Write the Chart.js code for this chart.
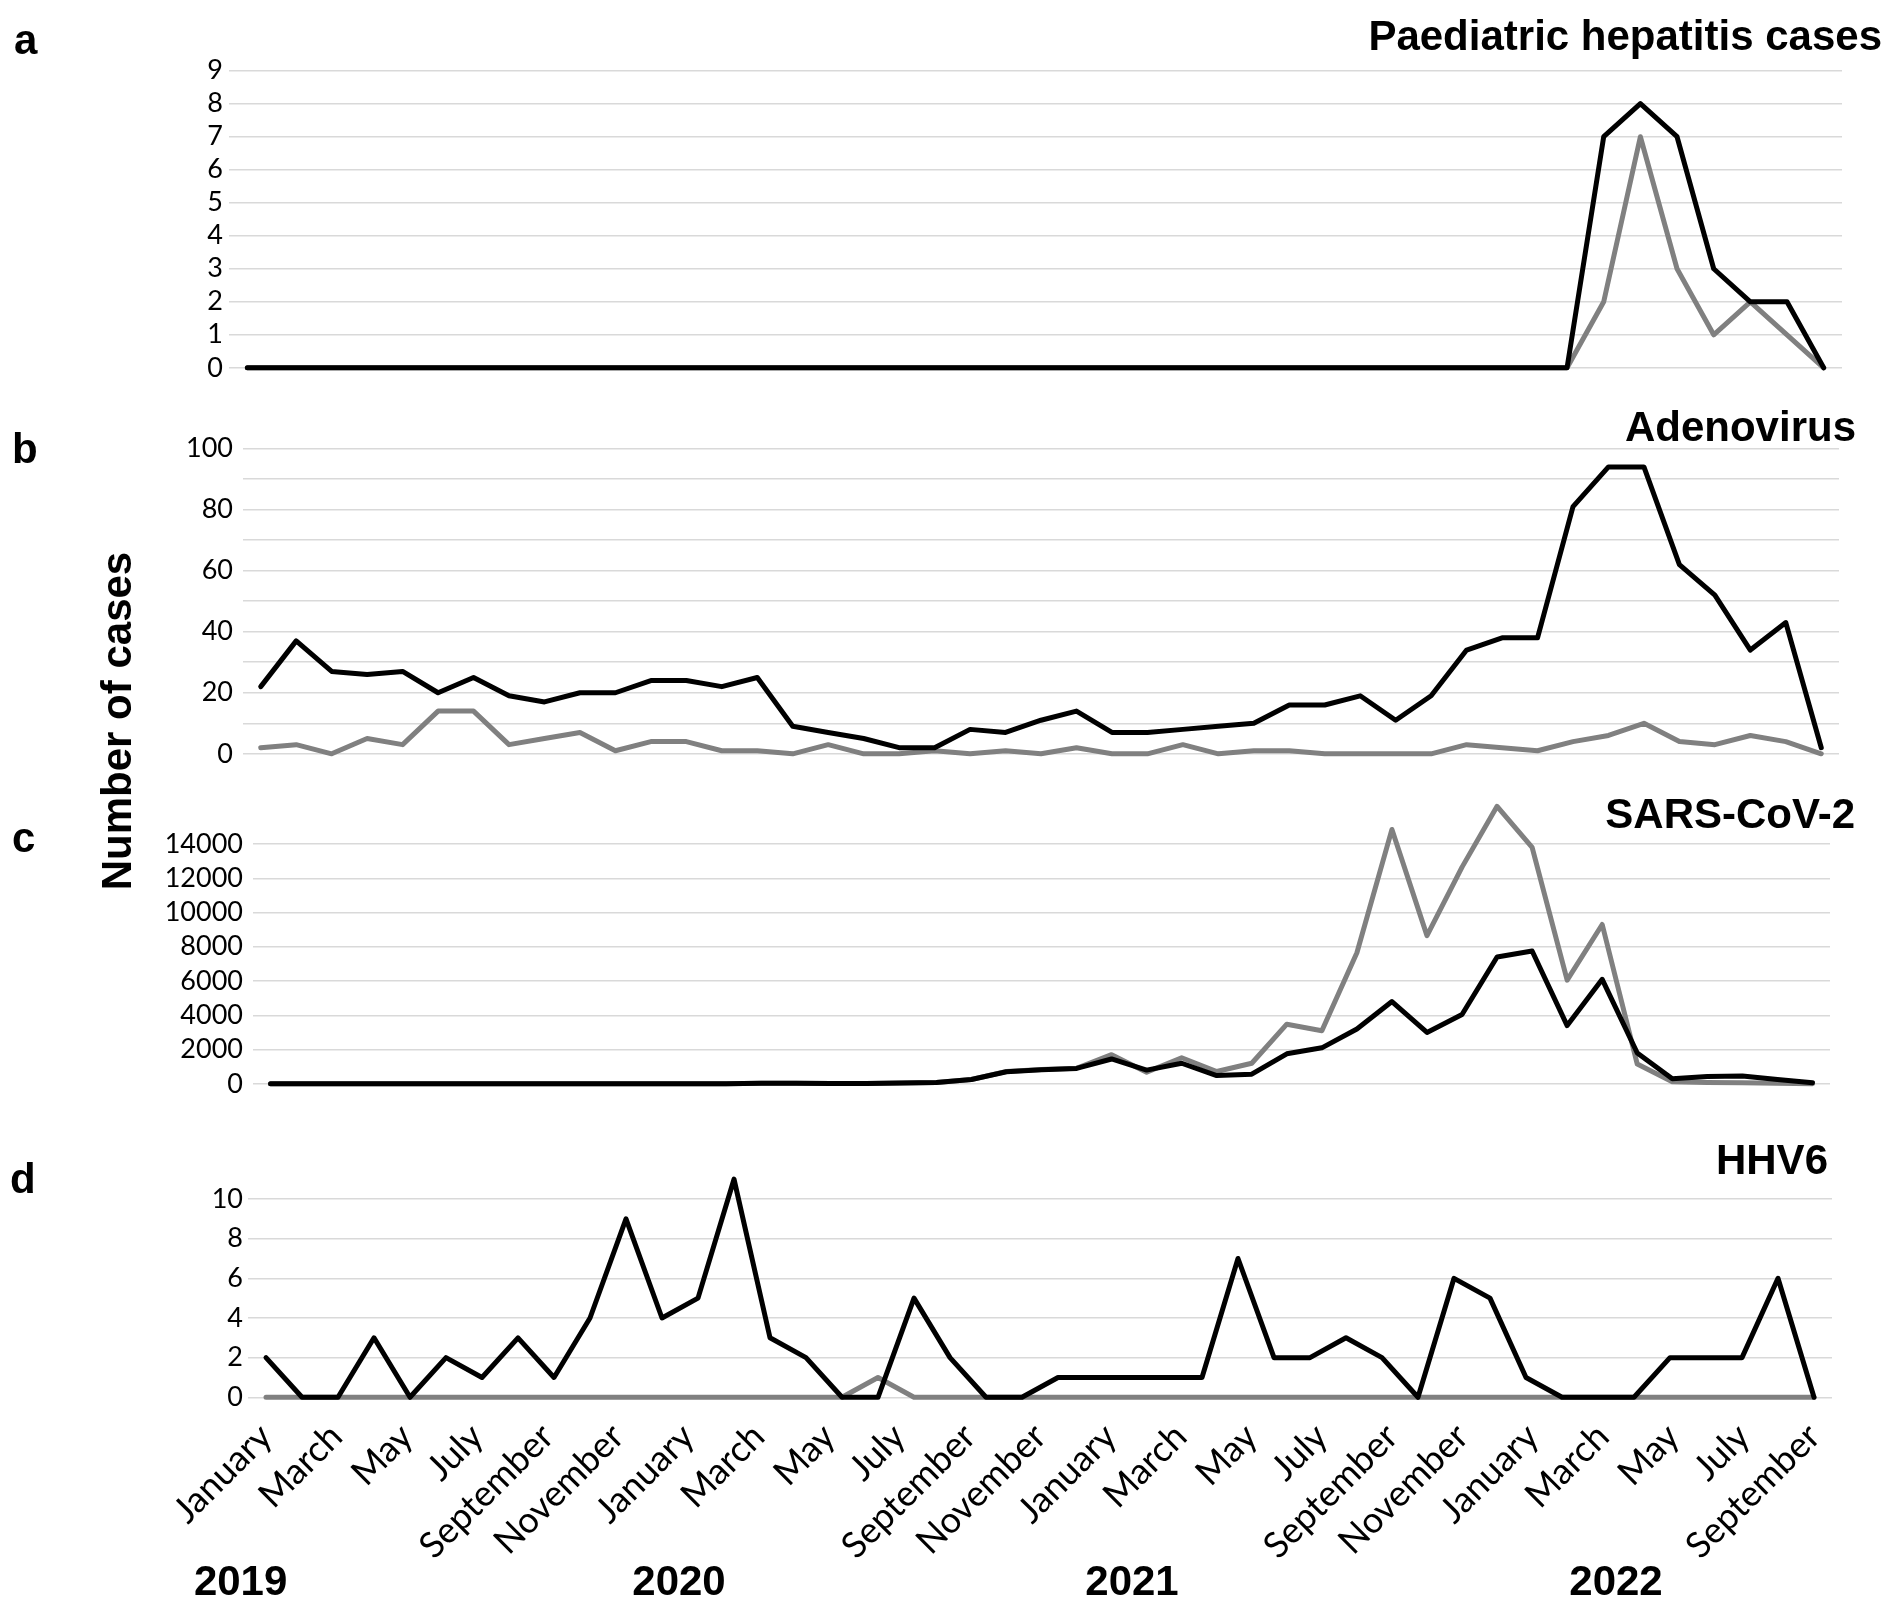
<!DOCTYPE html>
<html>
<head>
<meta charset="utf-8">
<title>Paediatric hepatitis, adenovirus, SARS-CoV-2 and HHV6 cases</title>
<script src="https://cdn.jsdelivr.net/npm/chart.js@4.4.0/dist/chart.umd.min.js"></script>
<style>
  html, body { margin: 0; padding: 0; background: #fff; }
  #page { position: relative; width: 1896px; height: 1612px; overflow: hidden; }
  #page canvas { position: absolute; left: 0; }
  .txt {
    position: absolute;
    font-family: "Liberation Sans", Arial, sans-serif;
    font-weight: bold;
    font-size: 42px;
    line-height: 42px;
    color: #000;
    white-space: nowrap;
  }
</style>
</head>
<body>
<div id="page">
  <canvas id="chartA" width="1896" height="350" style="top:40px"></canvas>
  <canvas id="chartB" width="1896" height="360" style="top:420px"></canvas>
  <canvas id="chartC" width="1896" height="320" style="top:790px"></canvas>
  <canvas id="chartD" width="1896" height="440" style="top:1150px"></canvas>

  <div class="txt" style="left:14px; top:18.8px">a</div>
  <div class="txt" style="left:12px; top:428px">b</div>
  <div class="txt" style="left:12px; top:817px">c</div>
  <div class="txt" style="left:10px; top:1158px">d</div>

  <div class="txt" style="right:14px; top:15.2px">Paediatric hepatitis cases</div>
  <div class="txt" style="right:40px; top:406.4px">Adenovirus</div>
  <div class="txt" style="right:41px; top:792.7px">SARS-CoV-2</div>
  <div class="txt" style="right:68px; top:1139.4px">HHV6</div>

  <div class="txt" style="left:-83.5px; top:700px; width:400px; text-align:center; transform:rotate(-90deg)">Number of cases</div>

  <div id="years"></div>
</div>

<script>
// mois (catégories) : janvier 2019 - septembre 2022
const months = [
    'Jan 2019', 'Feb 2019', 'Mar 2019', 'Apr 2019', 'May 2019', 'Jun 2019', 'Jul 2019', 'Aug 2019', 'Sep 2019', 'Oct 2019', 'Nov 2019', 'Dec 2019',
    'Jan 2020', 'Feb 2020', 'Mar 2020', 'Apr 2020', 'May 2020', 'Jun 2020', 'Jul 2020', 'Aug 2020', 'Sep 2020', 'Oct 2020', 'Nov 2020', 'Dec 2020',
    'Jan 2021', 'Feb 2021', 'Mar 2021', 'Apr 2021', 'May 2021', 'Jun 2021', 'Jul 2021', 'Aug 2021', 'Sep 2021', 'Oct 2021', 'Nov 2021', 'Dec 2021',
    'Jan 2022', 'Feb 2022', 'Mar 2022', 'Apr 2022', 'May 2022', 'Jun 2022', 'Jul 2022', 'Aug 2022', 'Sep 2022'
];

// libellés de l'axe du bas
const monthTicks = [
    'January', 'March', 'May', 'July', 'September', 'November',
    'January', 'March', 'May', 'July', 'September', 'November',
    'January', 'March', 'May', 'July', 'September', 'November',
    'January', 'March', 'May', 'July', 'September'
];
const years = ['2019', '2020', '2021', '2022'];

// a - hépatites pédiatriques (44 mois)
const hepatitisDark = [
    0, 0, 0, 0, 0, 0, 0, 0, 0, 0, 0, 0,
    0, 0, 0, 0, 0, 0, 0, 0, 0, 0, 0, 0,
    0, 0, 0, 0, 0, 0, 0, 0, 0, 0, 0, 0,
    0, 7, 8, 7, 3, 2, 2, 0
];
const hepatitisGrey = [
    0, 0, 0, 0, 0, 0, 0, 0, 0, 0, 0, 0,
    0, 0, 0, 0, 0, 0, 0, 0, 0, 0, 0, 0,
    0, 0, 0, 0, 0, 0, 0, 0, 0, 0, 0, 0,
    0, 2, 7, 3, 1, 2, 1, 0
];

// b - adénovirus (45 mois)
const adenoDark = [
    22, 37, 27, 26, 27, 20, 25, 19, 17, 20, 20, 24,
    24, 22, 25, 9, 7, 5, 2, 2, 8, 7, 11, 14,
    7, 7, 8, 9, 10, 16, 16, 19, 11, 19, 34, 38,
    38, 81, 94, 94, 62, 52, 34, 43, 2
];
const adenoGrey = [
    2, 3, 0, 5, 3, 14, 14, 3, 5, 7, 1, 4,
    4, 1, 1, 0, 3, 0, 0, 1, 0, 1, 0, 2,
    0, 0, 3, 0, 1, 1, 0, 0, 0, 0, 3, 2,
    1, 4, 6, 10, 4, 3, 6, 4, 0
];

// c - SARS-CoV-2 (45 mois)
const sarsDark = [
    0, 0, 0, 0, 0, 0, 0, 0, 0, 0, 0, 0,
    0, 0, 30, 30, 20, 20, 40, 80, 250, 700, 820, 900,
    1450, 800, 1200, 480, 560, 1750, 2100, 3200, 4800, 3000, 4050, 7400,
    7750, 3400, 6100, 1800, 300, 420, 460, 250, 60
];
const sarsGrey = [
    0, 0, 0, 0, 0, 0, 0, 0, 0, 0, 0, 0,
    0, 0, 30, 30, 20, 20, 40, 80, 250, 720, 830, 910,
    1700, 680, 1520, 720, 1200, 3480, 3100, 7650, 14850, 8650, 12650, 16200,
    13800, 6050, 9300, 1150, 120, 70, 60, 30, 0
];

// d - HHV6 (44 mois)
const hhv6Dark = [
    2, 0, 0, 3, 0, 2, 1, 3, 1, 4, 9, 4,
    5, 11, 3, 2, 0, 0, 5, 2, 0, 0, 1, 1,
    1, 1, 1, 7, 2, 2, 3, 2, 0, 6, 5, 1,
    0, 0, 0, 2, 2, 2, 6, 0
];
const hhv6Grey = [
    0, 0, 0, 0, 0, 0, 0, 0, 0, 0, 0, 0,
    0, 0, 0, 0, 0, 1, 0, 0, 0, 0, 0, 0,
    0, 0, 0, 0, 0, 0, 0, 0, 0, 0, 0, 0,
    0, 0, 0, 0, 0, 0, 0, 0
];

Chart.defaults.font.family = 'Lato, "Open Sans", sans-serif';
Chart.defaults.color = '#000';

const GRID = '#d9d9d9';
const TICK_FONT = { size: 27 };

// position des panneaux (pixels de la page)
const panels = [
    { id: 'chartA', top: 40, height: 350, plotTop: 70.7, plotBottom: 373.3, left: 229, right: 1842,
      labels: months.slice(0, 44), dark: hepatitisDark, grey: hepatitisGrey, max: 9, step: 1, every: 1, pad: 6 },
    { id: 'chartB', top: 420, height: 360, plotTop: 448.6, plotBottom: 764.5, left: 243, right: 1839,
      labels: months, dark: adenoDark, grey: adenoGrey, max: 100, step: 10, every: 20, pad: 10 },
    { id: 'chartC', top: 790, height: 320, plotTop: 844, plotBottom: 1088.5, left: 253, right: 1830,
      labels: months, dark: sarsDark, grey: sarsGrey, max: 14000, step: 2000, every: 2000, pad: 10 },
    { id: 'chartD', top: 1150, height: 440, plotTop: 1199, plotBottom: 1397.3, left: 248, right: 1832,
      labels: months.slice(0, 44), dark: hhv6Dark, grey: hhv6Grey, max: 10, step: 2, every: 2, pad: 5, monthAxis: 160 }
];

function lineSet(data, color) {
    return {
        data: data,
        borderColor: color,
        borderWidth: 5,
        borderJoinStyle: 'round',
        borderCapStyle: 'round',
        pointRadius: 0,
        tension: 0,
        fill: false,
        clip: false
    };
}

function makePanel(p) {
    const axisH = p.monthAxis || 0;
    const scales = {
        x: { type: 'category', offset: true, display: false },
        y: {
            min: 0,
            max: p.max,
            ticks: {
                stepSize: p.step,
                autoSkip: false,
                padding: p.pad,
                font: TICK_FONT,
                color: '#000',
                callback: v => (v % p.every === 0 ? v : '')
            },
            grid: { color: GRID, lineWidth: 1.5, drawTicks: false },
            border: { display: false },
            afterFit: s => { s.width = p.left; }
        }
    };

    if (axisH) {
        // axe des mois : 23 libellés répartis sur la période
        const n = p.labels.length;
        scales.months = {
            type: 'linear',
            position: 'bottom',
            min: -0.5,
            max: n - 0.5,
            grid: { display: false },
            border: { display: false },
            ticks: {
                font: { size: 36 },
                color: '#000',
                padding: 10,
                autoSkip: false,
                minRotation: 45,
                maxRotation: 45,
                callback: (v, i) => monthTicks[i]
            },
            afterBuildTicks: axis => {
                axis.ticks = monthTicks.map((m, i) => ({ value: i * (n - 1) / (monthTicks.length - 1) }));
            },
            afterFit: s => { s.height = axisH; }
        };
    }

    return new Chart(document.getElementById(p.id), {
        type: 'line',
        data: {
            labels: p.labels,
            datasets: [lineSet(p.dark, '#000000'), lineSet(p.grey, '#808080')]
        },
        options: {
            responsive: false,
            animation: false,
            events: [],
            layout: {
                padding: {
                    top: p.plotTop - p.top,
                    bottom: p.top + p.height - p.plotBottom - axisH,
                    left: 0,
                    right: 1896 - p.right
                }
            },
            plugins: {
                legend: { display: false },
                tooltip: { enabled: false }
            },
            scales: scales
        }
    });
}

panels.forEach(makePanel);

// années sous l'axe
const yearCentres = [240.6, 679, 1132, 1616];
const yearBox = document.getElementById('years');
years.forEach((y, i) => {
    const div = document.createElement('div');
    div.className = 'txt';
    div.textContent = y;
    div.style.left = (yearCentres[i] - 100) + 'px';
    div.style.width = '200px';
    div.style.textAlign = 'center';
    div.style.top = '1560.4px';
    yearBox.appendChild(div);
});
</script>
</body>
</html>
